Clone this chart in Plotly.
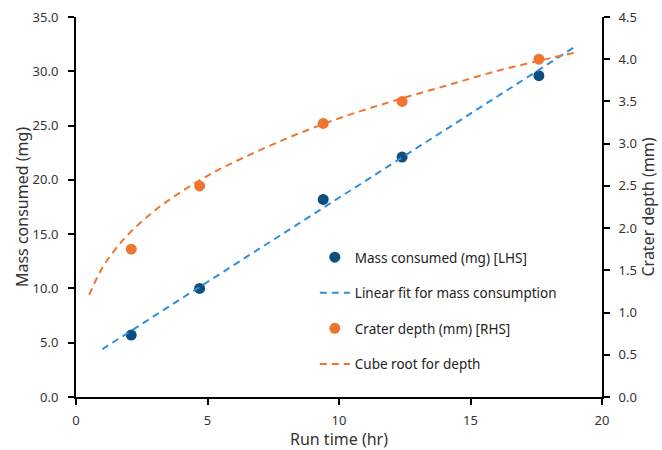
import plotly.graph_objects as go

run_time = [2.1, 4.7, 9.4, 12.4, 17.6]
mass_mg = [5.7, 10.0, 18.2, 22.1, 29.6]
depth_mm = [1.75, 2.5, 3.24, 3.5, 4.0]

lin_x = [1.0, 19.0]
lin_y = [4.4, 32.3]

cube_x = [0.5, 1, 1.5, 2, 3, 4, 5, 6, 8, 10, 12, 14, 16, 18, 19]
cube_y = [1.21, 1.53, 1.75, 1.93, 2.21, 2.43, 2.62, 2.78, 3.06, 3.30, 3.50, 3.68, 3.86, 4.01, 4.08]

BLUE_DOT = "#0E4F7F"
BLUE_LINE = "#2F8FDD"
ORANGE = "#EE7630"
FONT = "Noto Sans"

fig = go.Figure()
fig.add_trace(go.Scatter(x=run_time, y=mass_mg, mode="markers", name="Mass consumed (mg) [LHS]",
                         marker=dict(color=BLUE_DOT, size=11), legendgroup="a"))
fig.add_trace(go.Scatter(x=lin_x, y=lin_y, mode="lines", name="Linear fit for mass consumption",
                         line=dict(color=BLUE_LINE, width=2, dash="7px,5px"), legendgroup="b"))
fig.add_trace(go.Scatter(x=run_time, y=depth_mm, mode="markers", name="Crater depth (mm) [RHS]",
                         marker=dict(color=ORANGE, size=11), yaxis="y2", legendgroup="c"))
fig.add_trace(go.Scatter(x=cube_x, y=cube_y, mode="lines", name="Cube root for depth",
                         line=dict(color=ORANGE, width=2, dash="7px,5px", shape="spline"),
                         yaxis="y2", legendgroup="d"))

axis_common = dict(showline=True, linecolor="black", linewidth=2, ticks="outside",
                   tickcolor="black", tickwidth=2, ticklen=6, showgrid=False, zeroline=False,
                   automargin=False,
                   tickfont=dict(family=FONT, size=13, color="#333333"))

fig.update_layout(
    width=662, height=450,
    margin=dict(l=76, r=60, t=17, b=53),
    plot_bgcolor="white", paper_bgcolor="white",
    font=dict(family=FONT, size=13, color="#333333"),
    xaxis=dict(range=[0, 20], dtick=5, ticklabelstandoff=4,
               title=dict(text="Run time (hr)", standoff=6), **axis_common),
    yaxis=dict(range=[0, 35], dtick=5, tickformat=".1f", ticklabelstandoff=7,
               title=dict(text="Mass consumed (mg)", standoff=0), **axis_common),
    yaxis2=dict(range=[0, 4.5], dtick=0.5, tickformat=".1f", overlaying="y", side="right",
                ticklabelstandoff=6,
                title=dict(text="Crater depth (mm)", standoff=4), **axis_common),
    legend=dict(x=0.454, y=0.408, xanchor="left", yanchor="top", traceorder="grouped",
                tracegroupgap=15, bgcolor="rgba(0,0,0,0)",
                font=dict(family=FONT, size=13.5, color="#222222")),
)

fig.write_html("out.html")
